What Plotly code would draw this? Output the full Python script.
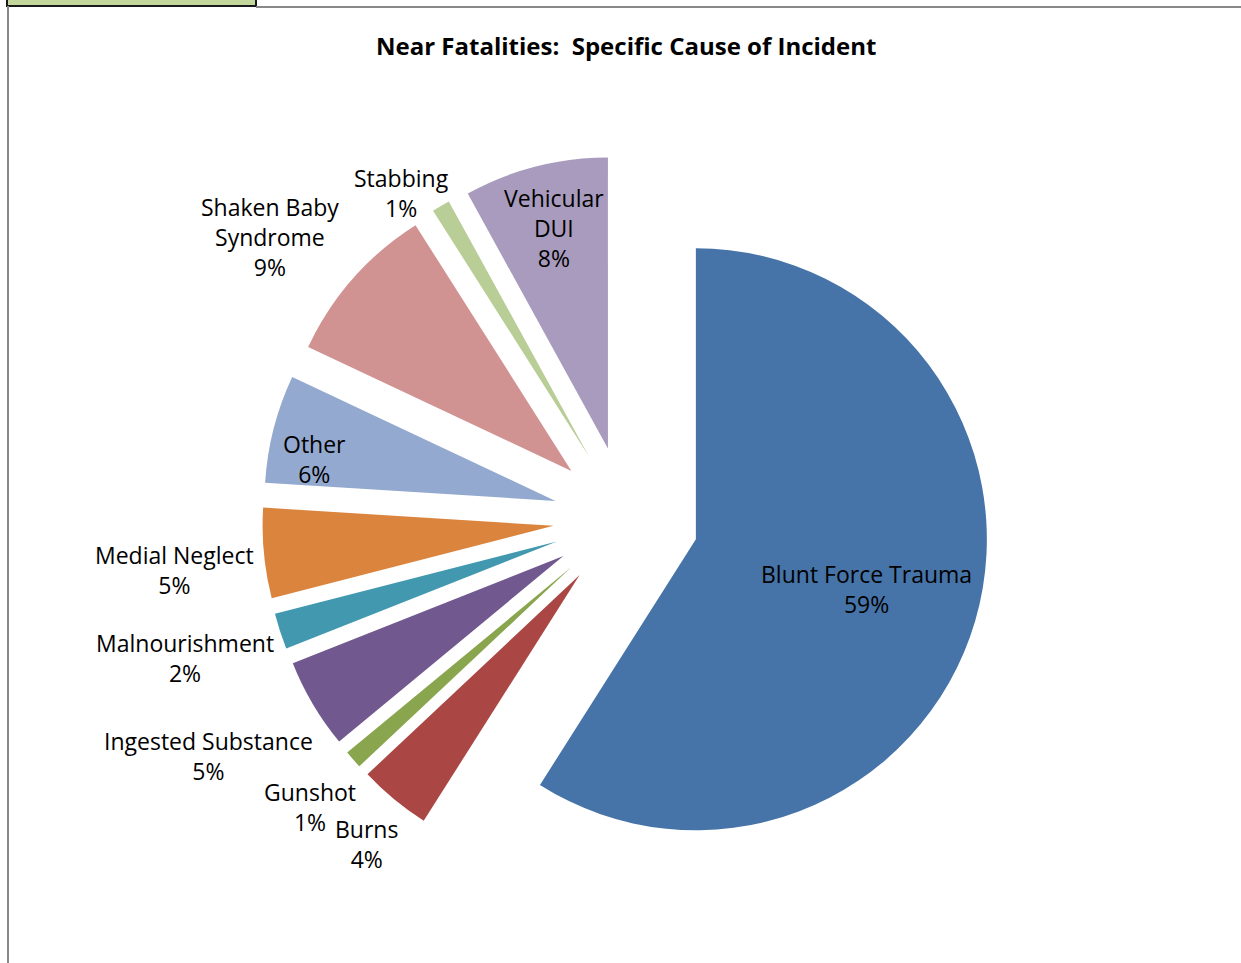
import math
import plotly.graph_objects as go

# ---- data ----
categories = ["Blunt Force Trauma", "Burns", "Gunshot", "Ingested Substance",
              "Malnourishment", "Medial Neglect", "Other", "Shaken Baby Syndrome",
              "Stabbing", "Vehicular DUI"]
values = [59, 4, 1, 5, 2, 5, 6, 9, 1, 8]
label_text = ["Blunt Force Trauma", "Burns", "Gunshot", "Ingested Substance",
              "Malnourishment", "Medial Neglect", "Other", "Shaken Baby<br>Syndrome",
              "Stabbing", "Vehicular<br>DUI"]
title = "Near Fatalities:  Specific Cause of Incident"

# ---- style ----
colors = ["#4674A8", "#AA4643", "#89A54E", "#71588F", "#4198AF",
          "#DB843D", "#93A9CF", "#D19392", "#B9CD96", "#A99BBD"]
label_dist = [0.86, 1.43, 1.47, 1.65, 1.59, 1.56, 1.09, 1.56, 1.36, 1.03]
label_ang_off = [0, -1, -1, 1, 0.5, -1, -3.5, -3, -4, 0.5]
W, H = 1241, 963
FONT = "Open Sans"
pull = 0.25
cx, cy, r = 626, 519, 291
half = r * (1 + pull)
dom_x = [(cx - half) / W, (cx + half) / W]
dom_y = [(H - cy - half) / H, (H - cy + half) / H]

fig = go.Figure(go.Pie(
    labels=categories, values=values, sort=False, direction="clockwise",
    rotation=0, pull=[pull] * len(values), textinfo="none", hoverinfo="label+percent",
    marker=dict(colors=colors, line=dict(width=0)),
    domain=dict(x=dom_x, y=dom_y), showlegend=False,
))

total = sum(values)
cum = 0
annotations = []
for i, v in enumerate(values):
    mid = (cum + v / 2) / total * 360 + label_ang_off[i]
    cum += v
    a = math.radians(mid)
    px = cx + label_dist[i] * r * math.sin(a)
    py = cy - label_dist[i] * r * math.cos(a)
    pct = round(v / total * 100)
    annotations.append(dict(
        x=px / W, y=1 - py / H, xref="paper", yref="paper",
        text=f"{label_text[i]}<br>{pct}%", showarrow=False,
        font=dict(family=FONT, size=23, color="#000000"),
        xanchor="center", yanchor="middle", align="center"))

annotations.append(dict(x=626 / W, y=1 - 46 / H, xref="paper", yref="paper",
                        text=f"<b>{title}</b>", showarrow=False,
                        font=dict(family=FONT, size=24, color="#000000"),
                        xanchor="center", yanchor="middle"))

shapes = [
    dict(type="rect", xref="paper", yref="paper", x0=7 / W, x1=256 / W,
         y0=1 - 6 / H, y1=1.01, fillcolor="#C3D69B",
         line=dict(color="#1a1a1a", width=2)),
    dict(type="line", xref="paper", yref="paper", x0=256 / W, x1=1,
         y0=1 - 7 / H, y1=1 - 7 / H, line=dict(color="#888888", width=2)),
    dict(type="line", xref="paper", yref="paper", x0=8 / W, x1=8 / W,
         y0=0, y1=1 - 6 / H, line=dict(color="#888888", width=2)),
]

fig.update_layout(width=W, height=H, margin=dict(l=0, r=0, t=0, b=0),
                  paper_bgcolor="white", plot_bgcolor="white",
                  annotations=annotations, shapes=shapes)
fig.write_html("out.html", config={"displayModeBar": False},
               post_script="document.body.style.margin='0';document.body.style.overflow='hidden';")
